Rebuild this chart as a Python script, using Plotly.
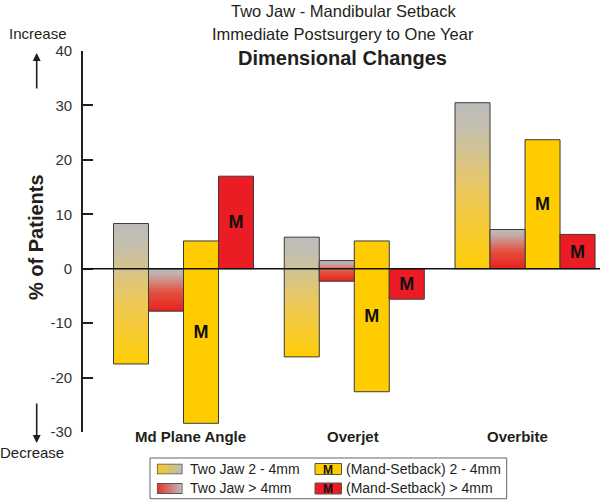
import base64
import plotly.graph_objects as go

# ---- data ----
categories = ["Md Plane Angle", "Overjet", "Overbite"]
series_names = ["Two Jaw 2 - 4mm", "Two Jaw > 4mm",
                "(Mand-Setback) 2 - 4mm", "(Mand-Setback) > 4mm"]

# % of patients that increased / decreased
two_jaw_2_4_inc = [8.3, 5.8, 30.5]
two_jaw_2_4_dec = [-17.5, -16.2, 0.0]
two_jaw_gt4_inc = [0.0, 1.5, 7.2]
two_jaw_gt4_dec = [-7.8, -2.3, 0.0]
setback_2_4_inc = [5.1, 5.1, 23.7]
setback_2_4_dec = [-28.4, -22.6, 0.0]
setback_gt4_inc = [17.0, 0.0, 6.3]
setback_gt4_dec = [0.0, -5.6, 0.0]

y_tickvals = [40, 30, 20, 10, 0, -10, -20, -30]
y_ticktext = ["40", "30", "20", "10", "0", "-10", "-20", "-30"]

# ---- styling ----
FONT = "Liberation Sans, Arial, sans-serif"
TXT = "#231F20"
YELLOW = "#FFCC00"
RED = "#EC1C24"
EDGE = "#3a3a3a"
yellow_grad = [[0, "#FFCD05"], [0.45, "#EDC95A"], [0.85, "#C4BFAE"], [1, "#BCBCBC"]]
red_grad = [[0, "#E8201F"], [0.45, "#E4523F"], [0.85, "#C4AAA8"], [1, "#BCBCBC"]]

W, H = 601, 500
ML, MR, MT, MB = 83, 1, 51, 68
PW, PH = W - ML - MR, H - MT - MB


def px(x):
    return (x - ML) / PW


def py(y):
    return (H - MB - y) / PH


bw = 0.205  # bar width in category units
offsets = [-1.5 * bw, -0.5 * bw, 0.5 * bw, 1.5 * bw]

fig = go.Figure()

# gradient (Two Jaw) bars: one filled rectangle trace per bar so each gets its own gradient
grad_series = [(two_jaw_2_4_inc, two_jaw_2_4_dec, yellow_grad, offsets[0]),
               (two_jaw_gt4_inc, two_jaw_gt4_dec, red_grad, offsets[1])]
for inc, dec, cs, off in grad_series:
    for i in range(len(categories)):
        x0, x1 = i + off - bw / 2, i + off + bw / 2
        fig.add_trace(go.Scatter(
            x=[x0, x1, x1, x0, x0], y=[dec[i], dec[i], inc[i], inc[i], dec[i]],
            mode="lines", fill="toself",
            fillgradient=dict(type="vertical", colorscale=cs),
            line=dict(color=EDGE, width=1), showlegend=False, hoverinfo="skip"))

# Mand-Setback bars (solid, labelled M)
solid_series = [(setback_2_4_inc, setback_2_4_dec, YELLOW, offsets[2], series_names[2]),
                (setback_gt4_inc, setback_gt4_dec, RED, offsets[3], series_names[3])]
for inc, dec, col, off, name in solid_series:
    fig.add_trace(go.Bar(
        x=[i + off for i in range(len(categories))],
        y=[a - b for a, b in zip(inc, dec)], base=dec, width=bw,
        marker=dict(color=col, line=dict(color=EDGE, width=1)),
        text=["M"] * len(categories), textposition="inside",
        insidetextanchor="middle", textangle=0,
        textfont=dict(family=FONT, size=18, color="#111", weight="bold"),
        name=name, showlegend=False))

annotations = []
# titles
annotations += [
    dict(text="Two Jaw - Mandibular Setback", x=px(343), y=py(11),
         font=dict(size=16.5)),
    dict(text="Immediate Postsurgery to One Year", x=px(343), y=py(34),
         font=dict(size=16.5)),
    dict(text="<b>Dimensional Changes</b>", x=px(342), y=py(58),
         font=dict(size=20)),
]
# category labels
for i, cat in enumerate(categories):
    annotations.append(dict(text="<b>" + cat + "</b>", x=i, xref="x", y=py(437),
                            xshift=[7, -1, -8][i], font=dict(size=15)))
# y title and increase / decrease markers
annotations += [
    dict(text="<b>% of Patients</b>", x=px(36), y=py(237), textangle=-90,
         font=dict(size=20)),
    dict(text="Increase", x=px(38), y=py(34), font=dict(size=15)),
    dict(text="Decrease", x=px(31.5), y=py(453), font=dict(size=15)),
    dict(text="", x=px(36.7), y=py(53), ax=0, ay=37, showarrow=True,
         arrowhead=2, arrowsize=1, arrowwidth=1.6, arrowcolor=TXT),
    dict(text="", x=px(36.7), y=py(443), ax=0, ay=-41, showarrow=True,
         arrowhead=2, arrowsize=1, arrowwidth=1.6, arrowcolor=TXT),
]

# ---- custom legend ----
shapes = [
    dict(type="rect", xref="paper", yref="paper", x0=px(150), x1=px(506.7),
         y0=py(458), y1=py(498.7), line=dict(color="#666", width=1),
         fillcolor="white", layer="below"),
    dict(type="line", xref="paper", yref="y", x0=0, x1=1, y0=0, y1=0,
         line=dict(color="#111", width=1.6), layer="above"),
]


def grad_svg(c_left):
    svg = ('<svg xmlns="http://www.w3.org/2000/svg" width="26" height="11">'
           '<defs><linearGradient id="g"><stop offset="0" stop-color="%s"/>'
           '<stop offset="1" stop-color="#BDBDBD"/></linearGradient></defs>'
           '<rect x="0.5" y="0.5" width="25" height="10" fill="url(#g)" '
           'stroke="#555" stroke-width="1"/></svg>' % c_left)
    return "data:image/svg+xml;base64," + base64.b64encode(svg.encode()).decode()


rows = [469, 488.5]
images = []
for r, (name, c) in enumerate([(series_names[0], "#F7C923"), (series_names[1], "#E8302A")]):
    images.append(dict(source=grad_svg(c), xref="paper", yref="paper",
                       x=px(156.7), y=py(rows[r] - 5.5), sizex=26 / PW, sizey=11 / PH,
                       xanchor="left", yanchor="top", sizing="stretch", layer="above"))
    annotations.append(dict(text=name, x=px(187.5), y=py(rows[r] - 0.5), xanchor="left",
                            font=dict(size=14)))
for r, (name, c) in enumerate([(series_names[2], YELLOW), (series_names[3], RED)]):
    shapes.append(dict(type="rect", xref="paper", yref="paper", x0=px(315), x1=px(341.5),
                       y0=py(rows[r] - 5.5), y1=py(rows[r] + 5.5), fillcolor=c,
                       line=dict(color="#555", width=1)))
    annotations.append(dict(text="<b>M</b>", x=px(328.3), y=py(rows[r] + 0.5),
                            font=dict(size=12, color="#111")))
    annotations.append(dict(text=name, x=px(343.5), y=py(rows[r] - 0.5), xanchor="left",
                            font=dict(size=14)))

for a in annotations:
    a.setdefault("xref", "paper")
    a.setdefault("yref", "paper")
    a.setdefault("showarrow", False)
    a.setdefault("xanchor", "center")
    a.setdefault("yanchor", "middle")
    f = a.setdefault("font", {})
    f.setdefault("family", FONT)
    f.setdefault("color", TXT)

fig.update_layout(
    width=W, height=H,
    margin=dict(l=ML, r=MR, t=MT, b=MB, pad=0),
    paper_bgcolor="white", plot_bgcolor="white",
    barmode="overlay",
    showlegend=False,
    hovermode=False,
    font=dict(family=FONT, color=TXT),
    annotations=annotations, shapes=shapes, images=images,
    uniformtext=dict(mode="show", minsize=10),
)
fig.update_xaxes(range=[-0.5886, 2.439], showgrid=False, zeroline=False,
                 showline=False, showticklabels=False, ticks="")
fig.update_yaxes(range=[-30, 40], tickvals=y_tickvals, ticktext=y_ticktext,
                 showgrid=False, zeroline=False, showline=True, linecolor=TXT,
                 linewidth=1.6, ticks="inside", ticklen=10, tickwidth=1.6,
                 tickcolor=TXT, tickfont=dict(size=15, color="#333"),
                 ticklabelstandoff=6)

# page has a default 8px body margin; drop it so the figure fills the window
fig.write_html("out.html", config={"displayModeBar": False},
               post_script="document.body.style.margin='0';document.body.style.overflow='hidden';")
